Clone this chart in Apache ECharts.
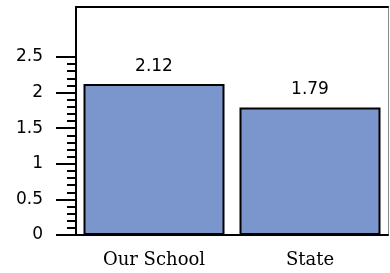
<!DOCTYPE html>
<html>
<head>
<meta charset="utf-8">
<script src="https://cdn.jsdelivr.net/npm/echarts@6/dist/echarts.min.js"></script>
<style>
  html, body { margin: 0; padding: 0; background: #fff; }
  #chart { width: 390px; height: 273px; }
</style>
</head>
<body>
<div id="chart"></div>
<script>
// categories and values
var categories = ["Our School", "State"];
var scores = [2.12, 1.79];
// tick positions on the y axis
var majorTicks = [0, 0.5, 1, 1.5, 2, 2.5];
var minorTicks = [0.1, 0.2, 0.3, 0.4, 0.6, 0.7, 0.8, 0.9, 1.1, 1.2, 1.3, 1.4,
                  1.6, 1.7, 1.8, 1.9, 2.1, 2.2, 2.3, 2.4];

var chart = echarts.init(document.getElementById("chart"));

var option = {
  animation: false,
  grid: { left: 76, right: 2, top: 7, bottom: 38 },
  xAxis: [
    {
      type: "category",
      data: categories,
      axisLine: { lineStyle: { color: "#000", width: 2 } },
      axisTick: { show: false },
      axisLabel: {
        color: "#000",
        fontFamily: "DejaVu Serif",
        fontSize: 18,
        margin: 16
      }
    },
    {
      // top border
      type: "category",
      position: "top",
      data: categories,
      axisLine: { onZero: false, lineStyle: { color: "#000", width: 2 } },
      axisTick: { show: false },
      axisLabel: { show: false }
    }
  ],
  yAxis: [
    {
      type: "value",
      min: 0,
      max: 3.2,
      splitLine: { show: false },
      axisLine: { show: true, lineStyle: { color: "#000", width: 2 } },
      axisTick: {
        show: true,
        length: 20,
        customValues: majorTicks,
        lineStyle: { color: "#000", width: 2 }
      },
      axisLabel: {
        customValues: majorTicks,
        margin: 33,
        color: "#000",
        fontFamily: "DejaVu Sans",
        fontSize: 17
      }
    },
    {
      // minor ticks
      type: "value",
      position: "left",
      min: 0,
      max: 3.2,
      splitLine: { show: false },
      axisLine: { show: false },
      axisTick: {
        show: true,
        length: 9,
        customValues: minorTicks,
        lineStyle: { color: "#000", width: 2 }
      },
      axisLabel: { show: false }
    },
    {
      // right border
      type: "value",
      position: "right",
      min: 0,
      max: 3.2,
      splitLine: { show: false },
      axisLine: { show: true, lineStyle: { color: "#888", width: 1 } },
      axisTick: { show: false },
      axisLabel: { show: false }
    }
  ],
  series: [
    {
      type: "bar",
      data: scores,
      barWidth: 141,
      itemStyle: {
        color: "#7a96cc",
        borderColor: "#000",
        borderWidth: 2
      },
      label: {
        show: true,
        position: "top",
        distance: 9,
        color: "#000",
        fontFamily: "DejaVu Sans",
        fontSize: 17
      }
    }
  ]
};

chart.setOption(option);
</script>
</body>
</html>
